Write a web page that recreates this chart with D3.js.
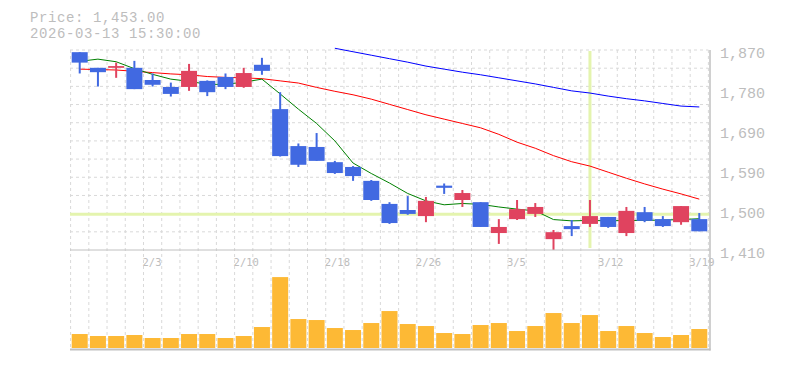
<!DOCTYPE html>
<html><head><meta charset="utf-8">
<script src="https://cdn.jsdelivr.net/npm/d3@7"></script>
<style>html,body{margin:0;padding:0;background:#fff;}svg{display:block;}</style>
</head><body>
<svg id="chart" width="785" height="370"></svg>
<script>
// ---- data ----
const categories = ["1/28","1/29","1/30","2/2","2/3","2/4","2/5","2/6","2/9","2/10",
  "2/12","2/13","2/16","2/17","2/18","2/19","2/20","2/24","2/25","2/26",
  "2/27","3/2","3/3","3/4","3/5","3/6","3/9","3/10","3/11","3/12",
  "3/13","3/16","3/17","3/18","3/19"];
const openV  = [1865,1829,1829,1829,1801,1785,1785,1799,1808,1785,1836,1734,1649,1647,1612,1601,1569,1516,1502,1488,1558,1525,1520,1449,1481,1493,1435,1465,1470,1486,1449,1497,1481,1474,1481];
const highV  = [1865,1829,1841,1845,1816,1795,1838,1800,1816,1829,1852,1773,1655,1679,1615,1603,1571,1520,1534,1532,1563,1548,1520,1481,1525,1518,1456,1479,1525,1486,1509,1509,1488,1511,1495];
const lowV   = [1816,1786,1806,1780,1786,1763,1776,1764,1780,1783,1813,1625,1601,1615,1585,1569,1523,1470,1491,1474,1539,1509,1463,1424,1479,1486,1410,1442,1463,1461,1442,1474,1463,1468,1453];
const closeV = [1841,1819,1833,1780,1790,1769,1822,1773,1785,1817,1822,1626,1606,1615,1587,1580,1525,1472,1493,1523,1553,1541,1463,1463,1504,1509,1451,1458,1488,1463,1500,1477,1465,1511,1453];
const ma5  = [1844,1849,1843,1827,1814,1803,1798,1791,1791,1796,1803,1769,1734,1701,1661,1610,1586,1564,1540,1523,1514,1517,1515,1509,1504,1500,1480,1477,1478,1477,1478,1478,1479,1480,1482];
const ma25 = [1826,1825,1824,1821,1818,1815,1813,1809,1807,1806,1804,1799,1794,1784,1775,1767,1757,1745,1733,1721,1711,1701,1691,1676,1658,1644,1627,1613,1603,1589,1575,1562,1550,1539,1527];
const ma75 = [null,null,null,null,null,null,null,null,null,null,null,null,null,null,1874,1866,1858,1850,1842,1833,1826,1819,1813,1806,1799,1792,1784,1776,1771,1764,1758,1753,1747,1741,1739];
const volumeV = [140000,120000,120000,130000,100000,100000,140000,140000,100000,120000,210000,710000,290000,280000,200000,180000,250000,370000,240000,220000,150000,140000,230000,250000,170000,220000,350000,250000,330000,170000,220000,150000,110000,130000,190000];
const yTickValues = [1410,1502,1594,1686,1778,1870];
const yTickLabels = ["1,410","1,500","1,590","1,690","1,780","1,870"];
const xTickIndex = [4,9,14,19,24,29,34];
const xTickLabels = ["2/3","2/10","2/18","2/26","3/5","3/12","3/19"];
const headerPrice = "Price: 1,453.00";
const headerTime = "2026-03-13 15:30:00";
const crossCategory = "3/11";
const crossPrice = 1492;

// ---- layout ----
const left = 70.6, right = 708.4, pTop = 50, pBot = 250, vTop = 270, vBot = 348, axisX = 710;
const svg = d3.select("#chart");
const x = d3.scaleBand().domain(categories).range([left, right]).padding(0);
const xc = d => x(d) + x.bandwidth() / 2;
const y = d3.scaleLinear().domain([1410, 1870]).range([pBot, pTop]);
const yv = d3.scaleLinear().domain([0, d3.max(volumeV) * 1.1]).range([vBot, vTop]);
const gridCol = "#d9d9d9", axisCol = "#c0c0c0", textCol = "#bdbdbd";
const upCol = "#e0435f", downCol = "#4169e1";

// grid
const g = svg.append("g");
const hLines = d3.range(11).map(i => pTop + i * (pBot - pTop) / 11);
g.selectAll(".hg").data(hLines).join("line")
  .attr("x1", 70).attr("x2", right).attr("y1", d => d).attr("y2", d => d)
  .attr("stroke", gridCol).attr("stroke-dasharray", "3,3");
const vLines = categories.map(c => x(c)).concat([right]);
g.selectAll(".vg").data(vLines).join("line")
  .attr("x1", d => d).attr("x2", d => d).attr("y1", pTop).attr("y2", vBot)
  .attr("stroke", gridCol).attr("stroke-dasharray", "3,3");

// crosshair
svg.append("line").attr("x1", xc(crossCategory)).attr("x2", xc(crossCategory))
  .attr("y1", pTop + 1).attr("y2", pBot - 2).attr("stroke", "#e4f4ae").attr("stroke-width", 3);
svg.append("line").attr("x1", 70).attr("x2", axisX).attr("y1", y(crossPrice)).attr("y2", y(crossPrice))
  .attr("stroke", "#e4f4ae").attr("stroke-width", 3);

// moving averages
const maLine = d3.line().defined(d => d[1] != null).x(d => xc(d[0])).y(d => y(d[1]));
[[ma75, "#0000ff"], [ma25, "#ff0000"], [ma5, "#008000"]].forEach(([arr, col]) => {
  svg.append("path").datum(categories.map((c, i) => [c, arr[i]]))
    .attr("d", maLine).attr("fill", "none").attr("stroke", col).attr("stroke-width", 1);
});

// candles
const candles = categories.map((c, i) => ({c, o: openV[i], h: highV[i], l: lowV[i], cl: closeV[i]}));
const cg = svg.append("g");
cg.selectAll(".wick").data(candles).join("line")
  .attr("x1", d => xc(d.c)).attr("x2", d => xc(d.c))
  .attr("y1", d => y(d.h)).attr("y2", d => y(d.l))
  .attr("stroke", d => d.cl >= d.o ? upCol : downCol).attr("stroke-width", 2);
cg.selectAll(".body").data(candles).join("rect")
  .attr("x", d => xc(d.c) - 8).attr("width", 16)
  .attr("y", d => y(Math.max(d.o, d.cl)))
  .attr("height", d => Math.max(1.5, Math.abs(y(d.o) - y(d.cl))))
  .attr("fill", d => d.cl >= d.o ? upCol : downCol);

// volume
svg.append("g").selectAll("rect").data(categories).join("rect")
  .attr("x", d => xc(d) - 8).attr("width", 16)
  .attr("y", (d, i) => yv(volumeV[i])).attr("height", (d, i) => vBot - yv(volumeV[i]))
  .attr("fill", "#fdb935");

// axes lines
svg.append("line").attr("x1", 70).attr("x2", axisX).attr("y1", pBot).attr("y2", pBot)
  .attr("stroke", axisCol).attr("stroke-width", 1);
svg.append("line").attr("x1", 70).attr("x2", axisX + 0.5).attr("y1", vBot + 1.5).attr("y2", vBot + 1.5)
  .attr("stroke", axisCol).attr("stroke-width", 2);

// x labels
svg.append("g").selectAll("text").data(xTickIndex).join("text")
  .attr("x", d => x(categories[d]) - 1).attr("y", 266)
  .attr("font-family", "'DejaVu Sans Mono', monospace").attr("font-size", 10.5)
  .attr("fill", textCol).text((d, i) => xTickLabels[i]);

svg.append("line").attr("x1", axisX).attr("x2", axisX).attr("y1", pTop).attr("y2", vBot + 2.5)
  .attr("stroke", axisCol).attr("stroke-width", 1.5);

// y labels
svg.append("g").selectAll("text").data(yTickValues).join("text")
  .attr("x", 720).attr("y", d => y(d) + 7.5)
  .attr("font-family", "'Liberation Mono', monospace").attr("font-size", 15)
  .attr("fill", textCol).text((d, i) => yTickLabels[i]);

// header
svg.append("text").attr("x", 30).attr("y", 22).attr("font-family", "'Liberation Mono', monospace")
  .attr("font-size", 14).attr("letter-spacing", 0.6).attr("fill", textCol).text(headerPrice);
svg.append("text").attr("x", 30).attr("y", 38).attr("font-family", "'Liberation Mono', monospace")
  .attr("font-size", 14).attr("letter-spacing", 0.6).attr("fill", textCol).text(headerTime);
</script>
</body></html>
